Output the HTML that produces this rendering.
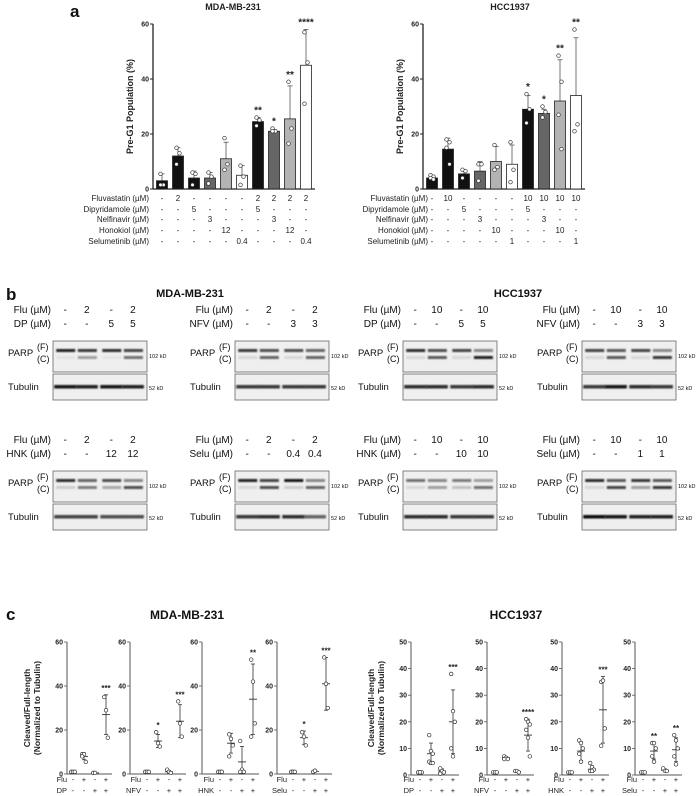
<!DOCTYPE html>
<html><head><meta charset="utf-8"><style>
body{margin:0;background:#fff;}
svg{display:block;font-family:"Liberation Sans",sans-serif;}
.t{fill:#222;}
.lab{fill:#222;}
.b{fill:#111;}
</style></head><body>
<svg id="fig" width="700" height="796" viewBox="0 0 700 796" xmlns="http://www.w3.org/2000/svg">
<defs><filter id="blur" x="-20%" y="-200%" width="140%" height="500%"><feGaussianBlur stdDeviation="0.9"/></filter></defs>
</svg>
<script>
// ===== Panel a data =====
const aTreatRows = ["Fluvastatin (\u00b5M)","Dipyridamole (\u00b5M)","Nelfinavir (\u00b5M)","Honokiol (\u00b5M)","Selumetinib (\u00b5M)"];
const aMdaTreat = [["-","2","-","-","-","-","2","2","2","2"],["-","-","5","-","-","-","5","-","-","-"],["-","-","-","3","-","-","-","3","-","-"],["-","-","-","-","12","-","-","-","12","-"],["-","-","-","-","-","0.4","-","-","-","0.4"]];
const aHccTreat = [["-","10","-","-","-","-","10","10","10","10"],["-","-","5","-","-","-","5","-","-","-"],["-","-","-","3","-","-","-","3","-","-"],["-","-","-","-","10","-","-","-","10","-"],["-","-","-","-","-","1","-","-","-","1"]];
const aMdaMeans = [3,12,4,4,11,5,24.5,21,25.5,45];
const aMdaSD = [2.5,3,2.5,2,6,3.5,1.5,0.6,12,13];
const aMdaPts = [[5.5,1.5,1.5],[15,13,9],[6,5.5,1.5],[6,4.5,2],[18.5,9,7],[8.5,4.5,1.5],[26,25,23],[22,21,21],[39,22,16.5],[57,46,31]];
const aMdaStars = ["","","","","","","**","*","**","****"];
const aHccMeans = [4,14.5,5.5,6.5,10,9,29,27.5,32,34];
const aHccSD = [1,4,1.5,3.5,5.5,7,5,1.5,15,21];
const aHccPts = [[5,4.5,4,3.5],[18,17,15,9],[7,6.5,4],[9,9,3],[16,8,7],[17,7,2.5],[34.5,29,24],[30,28,26],[48.5,39,27,14.5],[58,23.5,21]];
const aHccStars = ["","","","","","","*","*","**","**"];
const aFills = ["#111","#111","#111","#666","#b3b3b3","#fff","#111","#666","#b3b3b3","#fff"];
const aTicks = [0,20,40,60];

// ===== Panel c data =====
const cTickL = [0,20,40,60];
const cTickR = [0,10,20,30,40,50];
const cDrugs = ["DP","NFV","HNK","Selu"];
const cMdaPts = [
 [[1,1,1],[9,9,5.5,8],[0.5,0.5],[35,29,16.5]],
 [[1,1,1],[19,14,12.5],[2,1,0.5],[33,23,17]],
 [[1,1,1],[18,16,13,8],[15,2,1,1],[52,42,23,17]],
 [[1,1,1],[19,17,13],[1,1.5],[53,41,30]]];
const cMdaMean = [[1,8,0.5,27],[1,15,1,24],[1,14,5.5,34],[1,16.5,1.2,41]];
const cMdaSD = [[0,1.5,0,9],[0,3,0.5,7.5],[0,4.5,7,16],[0,3,0.3,12]];
const cMdaStars = [["","","","***"],["","*","","***"],["","","","**"],["","*","","***"]];
const cHccPts = [
 [[1,1,1,1,1],[15,9,8,5,4.5,4.5],[2.5,1.5,1,0.5],[38,24,20,10,7]],
 [[1,1,1],[7,6.5,6,6],[1.5,1.5,1],[21,20,19,17,14,7]],
 [[1,1,1],[13,12,10,8,5],[4.5,3,2,1.5,1.5],[35,35.5,17.5,11]],
 [[1,1,1],[12,12,10,7,5],[2.5,1.5,1.5],[15,13,10,7,4]]];
const cHccMean = [[1,8,1.5,20],[1,6.5,1.3,15],[1,9,2.2,24.5],[1,9,1.8,9.5]];
const cHccSD = [[0,4,0.8,12],[0,0.5,0.3,6],[0,3.5,1.2,12.5],[0,3,0.5,4.5]];
const cHccStars = [["","","","***"],["","","","****"],["","","","***"],["","**","","**"]];

// ===== Blot data =====
const bDrugLabels = ["DP","NFV","HNK","Selu"];
const bMdaDose = ["5","3","12","0.4"];
const bHccDose = ["5","3","10","1"];
const bMdaF = [[0.9,0.8,0.85,0.75],[0.8,0.7,0.7,0.6],[0.85,0.6,0.7,0.45],[0.9,0.75,0.95,0.45]];
const bMdaC = [[0.05,0.35,0.05,0.55],[0.1,0.6,0.1,0.6],[0.15,0.5,0.3,0.7],[0.1,0.7,0.15,0.6]];
const bHccF = [[0.85,0.7,0.75,0.45],[0.75,0.65,0.75,0.45],[0.55,0.45,0.5,0.35],[0.85,0.65,0.8,0.65]];
const bHccC = [[0.1,0.65,0.1,0.9],[0.1,0.65,0.1,0.8],[0.1,0.35,0.2,0.55],[0.1,0.75,0.35,0.8]];
const bMdaTub = [[0.95,0.9,0.95,0.9],[0.8,0.8,0.8,0.8],[0.75,0.75,0.7,0.7],[0.8,0.85,0.85,0.6]];
const bHccTub = [[0.85,0.85,0.8,0.85],[0.8,0.95,0.85,0.8],[0.85,0.85,0.8,0.8],[1,0.95,0.9,0.9]];

const svg = document.getElementById('fig');
const NS = "http://www.w3.org/2000/svg";
const defSize = {t:7, lab:8, b:10};
function mk(tag, attrs, parent){const e=document.createElementNS(NS,tag);for(const k in attrs)e.setAttribute(k,attrs[k]);(parent||svg).appendChild(e);return e;}
function txt(x,y,s,cls,anchor,parent,extra){
  extra = Object.assign({}, extra||{});
  const fs = extra['font-size'] || defSize[cls];
  delete extra['font-size'];
  const e=mk('text',Object.assign({x:x,y:y,class:cls,'text-anchor':anchor||'start',style:'font-size:'+fs+'px'},extra),parent);
  e.textContent=s;return e;}

// ---------- Panel a ----------
function panelA(axX, title, titleX, treat, means, sd, pts, stars, labelRight, prefix){
  const g = mk('g',{});
  
  
  const y0=189, y60=24;
  const yS = v => y0 - (y0-y60)*v/60;
  const firstX = axX+9, step=16;
  const xS = i => firstX + i*step;
  const t = txt(titleX, 10, title, 'lab', 'middle', g, {'font-weight':'bold','font-size':'9'});
  
  
  mk('line',{x1:axX,y1:y60,x2:axX,y2:y0,stroke:'#222','stroke-width':1.3},g);
  mk('line',{x1:axX,y1:y0,x2:xS(9)+9,y2:y0,stroke:'#222','stroke-width':1.3},g);
  aTicks.forEach(v=>{
    mk('line',{x1:axX-3,y1:yS(v),x2:axX,y2:yS(v),stroke:'#222','stroke-width':1},g);
    const tl = txt(axX-4,yS(v)+2.5,String(v),'t','end',g,{'font-weight':'bold'});
    
    
  });
  const yt = txt(0,0,'Pre-G1 Population (%)','lab','middle',g,{'font-weight':'bold','font-size':'9',transform:`translate(${axX-20},${(y0+y60)/2}) rotate(-90)`});
  
  
  means.forEach((m,i)=>{
    const x=xS(i);
    mk('line',{x1:x,y1:yS(m+sd[i]),x2:x,y2:yS(Math.max(0,m-sd[i])),stroke:'#555','stroke-width':0.8},g);
    mk('line',{x1:x-2.5,y1:yS(m+sd[i]),x2:x+2.5,y2:yS(m+sd[i]),stroke:'#555','stroke-width':0.8},g);
    const r = mk('rect',{x:x-5.5,y:yS(m),width:11,height:y0-yS(m),fill:aFills[i],stroke:'#222','stroke-width':0.8},g);
    
    
    pts[i].forEach((p,j)=>{
      const c = mk('circle',{cx:x+(j%2?1.5:-1.5)*(pts[i].length>2?1:0),cy:yS(p),r:1.8,fill:'#fff',stroke:'#333','stroke-width':0.7},g);
      
      
    });
    if(stars[i]){
      const top = Math.max(m+sd[i], Math.max(...pts[i]));
      const s = txt(x, yS(top)-4, stars[i], 'lab','middle',g,{'font-weight':'bold','font-size':'10'});
      
      
    }
  });
  const rowsY=[201,212,222,233,244];
  aTreatRows.forEach((lab,r)=>{
    const l = txt(labelRight, rowsY[r], lab, 'lab','end',g);
    
    
    treat[r].forEach((v,i)=>{
      const c = txt(xS(i), rowsY[r], v, 'lab','middle',g);
      
      
    });
  });
}
const pa = txt(70,17,'a','b','start',svg,{'font-size':'17','font-weight':'bold'});


panelA(153,'MDA-MB-231',233,aMdaTreat,aMdaMeans,aMdaSD,aMdaPts,aMdaStars,149,'a-mda');
panelA(423,'HCC1937',510,aHccTreat,aHccMeans,aHccSD,aHccPts,aHccStars,428,'a-hcc');

// ---------- Panel b ----------
const pb = txt(6,300,'b','b','start',svg,{'font-size':'17','font-weight':'bold'});


const bt1 = txt(190,297,'MDA-MB-231','b','middle',svg,{'font-weight':'bold','font-size':'11'});


const bt2 = txt(518,297,'HCC1937','b','middle',svg,{'font-weight':'bold','font-size':'11'});



function blot(boxX, rowTop, drug, flu, dose, F, C, T, name){
  const g = mk('g',{});
  
  
  const boxW=94;
  const lanes=[0.13,0.36,0.62,0.85].map(f=>boxX+boxW*f);
  const y1=rowTop, y2=rowTop+14;
  const l1 = txt(boxX-2,y1,'Flu (\u00b5M)','b','end',g,{'font-size':'10'});  
  const l2 = txt(boxX-2,y2,drug+' (\u00b5M)','b','end',g,{'font-size':'10'});  
  ['-',flu,'-',flu].forEach((v,i)=>txt(lanes[i]+(i===0?0:0),y1,v,'b','middle',g,{'font-size':'10'}));
  ['-','-',dose,dose].forEach((v,i)=>txt(lanes[i],y2,v,'b','middle',g,{'font-size':'10'}));
  const pTop=rowTop+28, pH=31, tTop=pTop+33, tH=26;
  const r1=mk('rect',{x:boxX,y:pTop,width:boxW,height:pH,fill:'#efefef',stroke:'#666','stroke-width':0.8},g);
   
  const r2=mk('rect',{x:boxX,y:tTop,width:boxW,height:tH,fill:'#efefef',stroke:'#666','stroke-width':0.8},g);
   
  lanes.forEach((x,i)=>{
    mk('rect',{x:x-9,y:pTop+8,width:19,height:3,fill:'#111',opacity:F[i],filter:'url(#blur)'},g);
    mk('rect',{x:x-9,y:pTop+15,width:19,height:3,fill:'#111',opacity:C[i],filter:'url(#blur)'},g);
    mk('rect',{x:x-11,y:tTop+11,width:22,height:3.5,fill:'#111',opacity:T[i],filter:'url(#blur)'},g);
  });
  txt(boxX-45,pTop+15,'PARP','b','start',g,{'font-size':'9.5'});
  txt(boxX-16,pTop+9,'(F)','b','start',g,{'font-size':'9'});
  txt(boxX-16,pTop+21,'(C)','b','start',g,{'font-size':'9'});
  txt(boxX-45,tTop+16,'Tubulin','b','start',g,{'font-size':'9.5'});
  txt(boxX+boxW+2,pTop+17,'102 kD','b','start',g,{'font-size':'5.5'});
  txt(boxX+boxW+2,tTop+16,'52 kD','b','start',g,{'font-size':'5.5'});
}
const rowTops=[313,443];
const mdaBoxX=[53,235,53,235];
const hccBoxX=[403,582,403,582];
for(let k=0;k<4;k++){
  const rt=rowTops[Math.floor(k/2)];
  blot(mdaBoxX[k],rt,bDrugLabels[k],'2',bMdaDose[k],bMdaF[k],bMdaC[k],bMdaTub[k],'blot-mda-'+bDrugLabels[k].toLowerCase());
  blot(hccBoxX[k],rt,bDrugLabels[k],'10',bHccDose[k],bHccF[k],bHccC[k],bHccTub[k],'blot-hcc-'+bDrugLabels[k].toLowerCase());
}

// ---------- Panel c ----------
const pc = txt(6,620,'c','b','start',svg,{'font-size':'17','font-weight':'bold'});


const ct1 = txt(187,619,'MDA-MB-231','b','middle',svg,{'font-weight':'bold','font-size':'12'});
 
const ct2 = txt(516,619,'HCC1937','b','middle',svg,{'font-weight':'bold','font-size':'12'});
 

function scatter(axX, off, y0, yTop, maxV, ticks, drug, pts, means, sds, stars, name){
  const g = mk('g',{});
  
  
  const yS = v => y0 - (y0-yTop)*v/maxV;
  const xS = i => axX + off + i*11;
  mk('line',{x1:axX,y1:yTop,x2:axX,y2:y0,stroke:'#555','stroke-width':1},g);
  mk('line',{x1:axX,y1:y0,x2:xS(3)+6,y2:y0,stroke:'#555','stroke-width':1},g);
  ticks.forEach(v=>{
    mk('line',{x1:axX-3,y1:yS(v),x2:axX,y2:yS(v),stroke:'#555','stroke-width':0.8},g);
    const tl = txt(axX-4,yS(v)+2.5,String(v),'t','end',g,{'font-weight':'bold'});
     
  });
  for(let i=0;i<4;i++){
    const x=xS(i), m=means[i], s=sds[i];
    if(s>0){
      mk('line',{x1:x,y1:yS(m+s),x2:x,y2:yS(Math.max(0,m-s)),stroke:'#333','stroke-width':0.8},g);
      mk('line',{x1:x-2,y1:yS(m+s),x2:x+2,y2:yS(m+s),stroke:'#333','stroke-width':0.8},g);
      mk('line',{x1:x-2,y1:yS(Math.max(0,m-s)),x2:x+2,y2:yS(Math.max(0,m-s)),stroke:'#333','stroke-width':0.8},g);
    }
    mk('line',{x1:x-4,y1:yS(m),x2:x+4,y2:yS(m),stroke:'#333','stroke-width':0.9},g);
    pts[i].forEach((p,j)=>{
      const c = mk('circle',{cx:x+((j%3)-1)*1.8,cy:yS(p),r:1.8,fill:'#fff',stroke:'#333','stroke-width':0.7},g);
       
    });
    if(stars[i]){
      const top=Math.max(m+s,Math.max(...pts[i]));
      const st = txt(x,yS(top)-4,stars[i],'lab','middle',g,{'font-weight':'bold','font-size':'8'});
       
    }
  }
  txt(xS(0)-6,782,'Flu','t','end',g,{'font-size':'7.5'});
  txt(xS(0)-6,793,drug,'t','end',g,{'font-size':'7.5'});
  ['-','+','-','+'].forEach((v,i)=>txt(xS(i),782,v,'t','middle',g,{'font-size':'7.5'}));
  ['-','-','+','+'].forEach((v,i)=>txt(xS(i),793,v,'t','middle',g,{'font-size':'7.5'}));
}
const cMdaAx=[67,130,202,277];
const cMdaOff=[6,17,18,16];
const cHccAx=[411,487,562,635];
const cHccOff=[9,8,8,8];
for(let k=0;k<4;k++){
  scatter(cMdaAx[k],cMdaOff[k],774,642,60,cTickL,cDrugs[k],cMdaPts[k],cMdaMean[k],cMdaSD[k],cMdaStars[k],'c-mda-'+cDrugs[k].toLowerCase());
  scatter(cHccAx[k],cHccOff[k],775,642,50,cTickR,cDrugs[k],cHccPts[k],cHccMean[k],cHccSD[k],cHccStars[k],'c-hcc-'+cDrugs[k].toLowerCase());
}
[[36,708,'mda'],[380,708,'hcc']].forEach(([x,y,n])=>{
  const a = txt(0,0,'Cleaved/Full-length','lab','middle',svg,{'font-weight':'bold','font-size':'8.5',transform:`translate(${x-6},${y}) rotate(-90)`});
   
  const b = txt(0,0,'(Normalized to Tubulin)','lab','middle',svg,{'font-weight':'bold','font-size':'8.5',transform:`translate(${x+4},${y}) rotate(-90)`});
   
});
</script>
</body></html>
